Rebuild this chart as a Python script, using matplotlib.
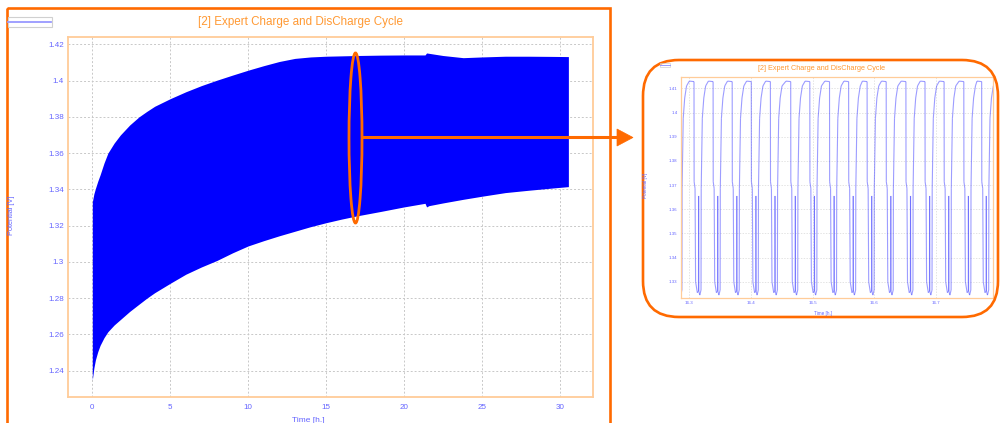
import matplotlib
matplotlib.use("Agg")
import matplotlib.pyplot as plt
from matplotlib.patches import Rectangle, Ellipse, FancyBboxPatch, Polygon
from matplotlib.collections import LineCollection

plt.rcParams['font.family'] = ['Liberation Sans', 'DejaVu Sans']

title = "[2] Expert Charge and DisCharge Cycle"

# full run: envelope of the charge/discharge cycles (hours, volts)
env_time = [0.0, 0.1, 0.2, 0.35, 0.5, 0.75, 1.0, 1.4, 1.8, 2.4, 3.0, 3.5, 4.0, 5.0,
            6.0, 7.0, 8.0, 9.0, 10.0, 11.0, 12.0, 13.0, 14.0, 15.0, 16.0, 17.0, 18.5,
            20.0, 21.35, 21.45, 21.6, 22.5, 23.8, 25.0, 26.5, 28.0, 29.5, 30.55]
env_upper = [1.3330, 1.3375, 1.3405, 1.3445, 1.3480, 1.3545, 1.3600, 1.3655, 1.3700,
             1.3755, 1.3800, 1.3830, 1.3858, 1.3900, 1.3938, 1.3972, 1.4002, 1.4030,
             1.4057, 1.4082, 1.4105, 1.4122, 1.4130, 1.4134, 1.4136, 1.4138, 1.4140,
             1.4141, 1.4141, 1.4152, 1.4150, 1.4138, 1.4126, 1.4130, 1.4134, 1.4134,
             1.4133, 1.4132]
env_lower = [1.2349, 1.2415, 1.2460, 1.2505, 1.2540, 1.2582, 1.2615, 1.2652, 1.2682,
             1.2727, 1.2767, 1.2800, 1.2830, 1.2882, 1.2932, 1.2972, 1.3008, 1.3050,
             1.3088, 1.3117, 1.3144, 1.3169, 1.3194, 1.3216, 1.3236, 1.3254, 1.3278,
             1.3303, 1.3323, 1.3303, 1.3310, 1.3325, 1.3345, 1.3362, 1.3382, 1.3395,
             1.3407, 1.3415]
main_xticks = [0, 5, 10, 15, 20, 25, 30]
main_yticks = [1.24, 1.26, 1.28, 1.30, 1.32, 1.34, 1.36, 1.38, 1.40, 1.42]

cycle_start = [16.269, 16.300, 16.331, 16.362, 16.393, 16.424, 16.457, 16.488, 16.520,
               16.551, 16.581, 16.612, 16.644, 16.675, 16.706, 16.738, 16.767, 16.798]
cycle_phase = [0.0, 0.0076, 0.0078, 0.0093, 0.0102, 0.0130, 0.0149, 0.0151, 0.0154,
               0.0170, 0.0190, 0.0193, 0.0211, 0.0235, 0.0265]
cycle_volt = [1.4130, 1.4128, 1.3714, 1.3686, 1.3300, 1.3255, 1.3262, 1.3655, 1.3262,
              1.3245, 1.3266, 1.3686, 1.3976, 1.4060, 1.4110]
zoom_xticks = [16.3, 16.4, 16.5, 16.6, 16.7]
zoom_yticks = [1.33, 1.34, 1.35, 1.36, 1.37, 1.38, 1.39, 1.40, 1.41]

orange = '#ff6a00'
title_orange = '#ff9933'
spine_orange = '#ffcc99'
tick_blue = '#6464ff'

fig = plt.figure(figsize=(10, 4.23), dpi=100)

# ---- main chart
ax = fig.add_axes([0.068, 1 - 397 / 423, 0.525, 360 / 423])
ax.fill_between(env_time, env_lower, env_upper, color='#0000ff', lw=0)
ax.set_xlim(-1.56, 32.13)
ax.set_ylim(1.2255, 1.4240)
ax.set_xticks(main_xticks)
ax.set_xticklabels([f'{v:g}' for v in main_xticks])
ax.set_yticks(main_yticks)
ax.set_yticklabels([f'{v:g}' for v in main_yticks])
ax.tick_params(length=0, labelsize=5.8, labelcolor=tick_blue)
ax.tick_params(axis='x', pad=5)
ax.tick_params(axis='y', pad=3)
ax.grid(True, color='#c8c8c8', linestyle=(0, (2, 2)), lw=0.7)
ax.set_axisbelow(True)
for s in ax.spines.values():
    s.set_color(spine_orange)
    s.set_linewidth(1.3)

# ---- zoomed chart
ax2 = fig.add_axes([0.681, 1 - 298 / 423, 0.312, 221 / 423])
zt, zv = [], []
for s in cycle_start:
    zt.extend([s + p for p in cycle_phase])
    zv.extend(cycle_volt)
segs = [[(zt[i], zv[i]), (zt[i + 1], zv[i + 1])] for i in range(len(zt) - 1)]
ax2.add_collection(LineCollection(segs, colors=[(0.3, 0.3, 1.0, 0.55)], linewidths=0.8))
ax2.set_xlim(16.2865, 16.793)
ax2.set_ylim(1.3233, 1.4147)
ax2.set_xticks(zoom_xticks)
ax2.set_xticklabels([f'{v:g}' for v in zoom_xticks])
ax2.set_yticks(zoom_yticks)
ax2.set_yticklabels([f'{v:g}' for v in zoom_yticks])
ax2.tick_params(length=0, labelsize=3.2, labelcolor=tick_blue, pad=2.5)
ax2.grid(True, color='#d8d8d8', linestyle=(0, (2, 2)), lw=0.5)
ax2.set_axisbelow(True)
for s in ax2.spines.values():
    s.set_color(spine_orange)
    s.set_linewidth(0.9)

# ---- overlay in pixel coordinates for frames, labels, callout
ov = fig.add_axes([0, 0, 1, 1], zorder=5)
ov.set_xlim(0, 1000)
ov.set_ylim(423, 0)
ov.axis('off')
ov.patch.set_alpha(0)

ov.add_patch(Rectangle((6.5, 8), 603.5, 440, fill=False, ec=orange, lw=1.9))
ov.add_patch(Rectangle((7.5, 17.5), 44, 10, fill=False, ec='#d0d0d0', lw=0.8))
ov.plot([8, 51], [22.5, 22.5], color='#9999ff', lw=1.3)
ov.text(301, 22, title, ha='center', va='center', color=title_orange, fontsize=8.4)
ov.text(12, 215, 'Potential [V]', rotation=90, ha='center', va='center',
        color=tick_blue, fontsize=5.3)
ov.text(308, 417, 'Time [h.]', ha='center', va='top', color=tick_blue, fontsize=6)

ov.add_patch(FancyBboxPatch((643, 60), 355, 257,
                            boxstyle='round,pad=0,rounding_size=36',
                            fill=False, ec=orange, lw=1.9))
ov.add_patch(Rectangle((660, 63.5), 10, 4, fill=False, ec='#d0d0d0', lw=0.5))
ov.plot([660, 670], [65.5, 65.5], color='#9999ff', lw=0.7)
ov.text(822, 68, title, ha='center', va='center', color=title_orange, fontsize=5.2)
ov.text(646, 185, 'Potential [V]', rotation=90, ha='center', va='center',
        color=tick_blue, fontsize=3.3)
ov.text(823, 313, 'Time [h.]', ha='center', va='center', color=tick_blue, fontsize=3.3)

ov.add_patch(Ellipse((355.5, 138), 13, 170, fill=False, ec=orange, lw=2.0))
ov.plot([362, 618], [137.5, 137.5], color=orange, lw=2.2, solid_capstyle='butt')
ov.add_patch(Polygon([(617, 129), (633, 137.5), (617, 146)], closed=True,
                     fc=orange, ec=orange, lw=0.5))

fig.savefig('out.png', dpi=100, facecolor='white')
